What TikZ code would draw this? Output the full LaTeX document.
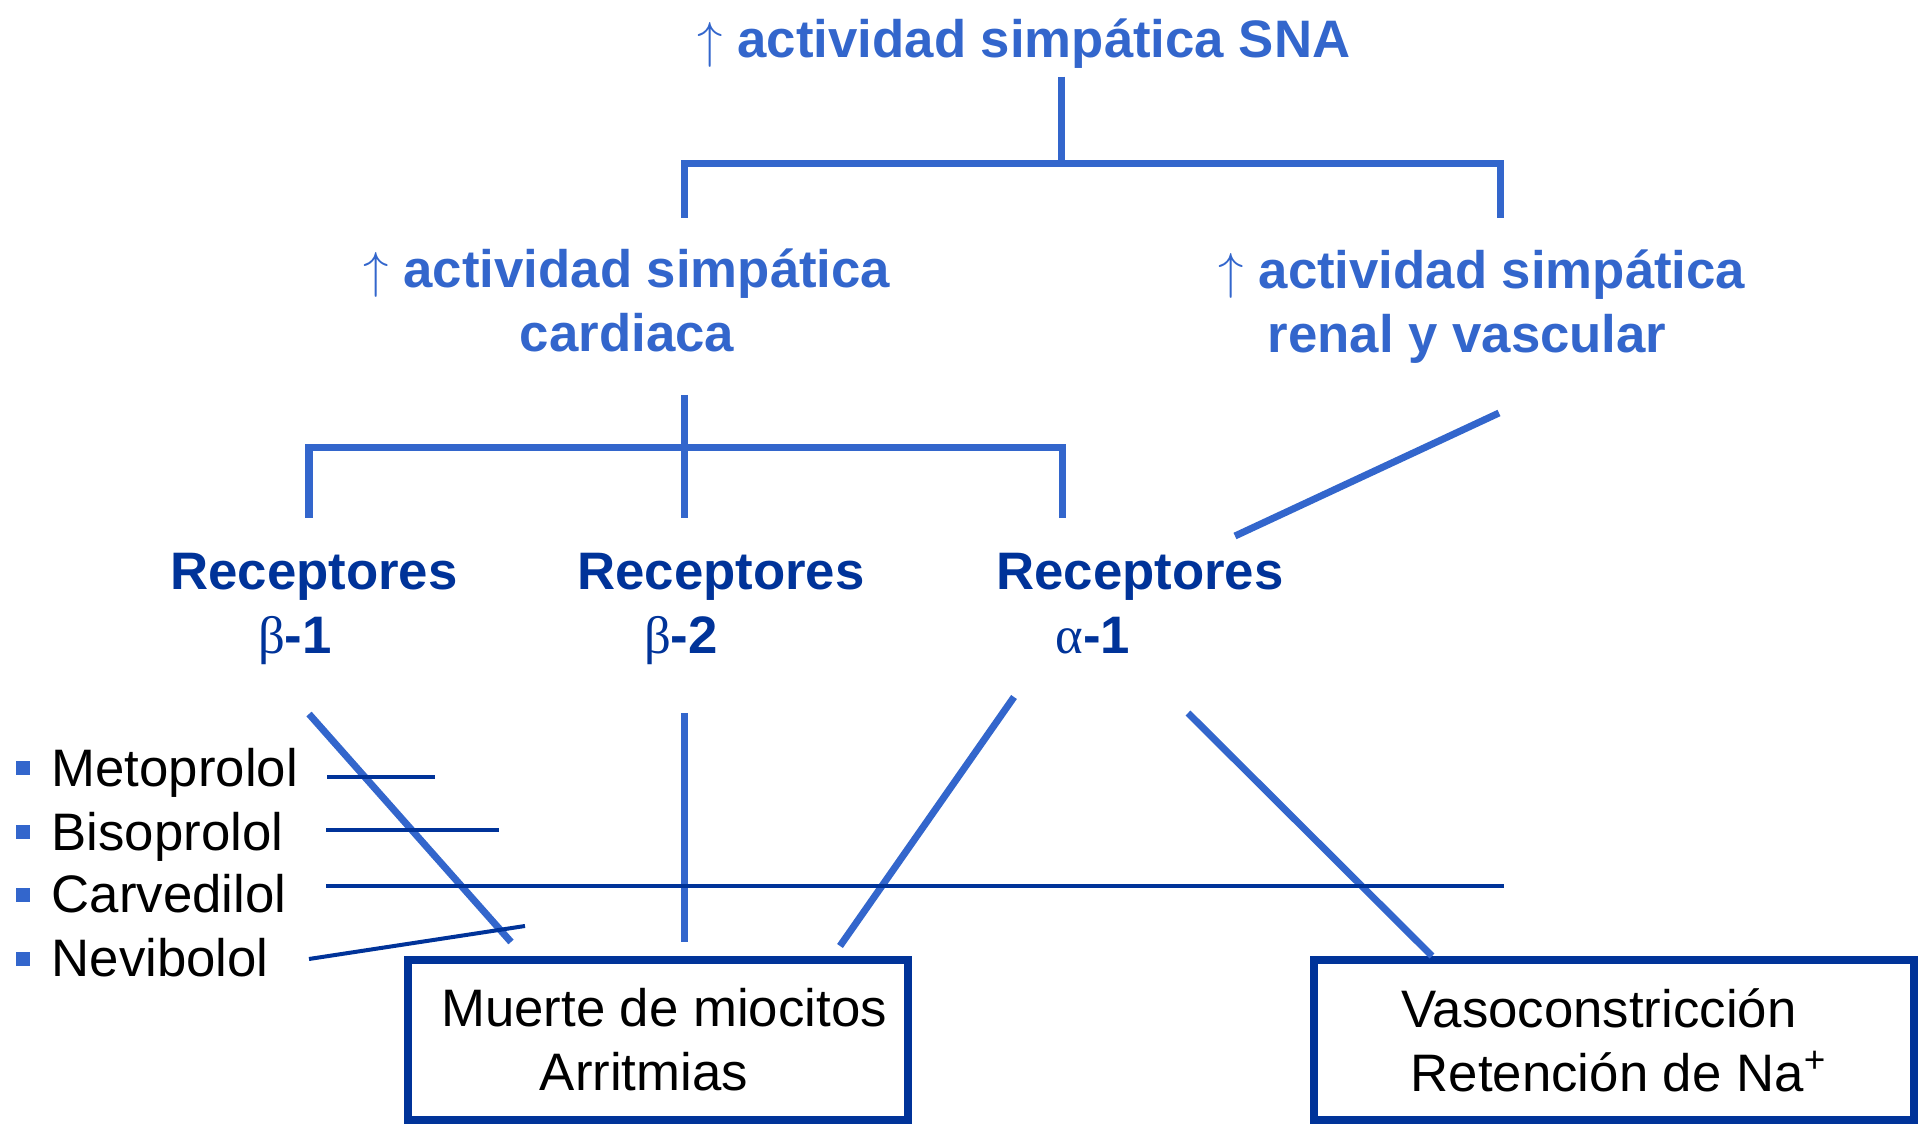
\documentclass[tikz,border=0pt]{standalone}
\usepackage{fontspec}
\setmainfont{Liberation Sans}
\newfontfamily\grkfont{Liberation Serif}
\usepackage{tikz}
\definecolor{snablue}{RGB}{51,102,204}
\definecolor{recblue}{RGB}{0,51,153}
\newcommand{\up}{$\uparrow$\ }
\newcommand{\grk}[1]{{\grkfont\mdseries #1}}

\begin{document}
\begin{tikzpicture}[x=0.01cm,y=-0.01cm,font=\fontsize{15}{18.2}\selectfont]
    \tikzset{head/.style = {text=snablue,font=\fontsize{15}{18.2}\selectfont\bfseries,inner sep=0}}
    \tikzset{rec/.style = {text=recblue,font=\fontsize{15}{18.2}\selectfont\bfseries,align=center,inner sep=0}}
    \tikzset{outcome/.style = {draw=recblue,line width=0.08cm,minimum height=1.6cm,align=center,inner sep=0}}
    \tikzset{drug/.style = {anchor=base west,inner sep=0}}
    \tikzset{bull/.style = {fill=snablue,minimum size=0.14cm,inner sep=0}}
    \tikzset{link/.style = {snablue,line width=0.07cm}}
    \tikzset{block/.style = {recblue,line width=0.04cm}}
    \useasboundingbox (0,0) rectangle (1923,1125);
    % headings
    \node[head,anchor=base] (sna) at (1024,58) {\up actividad simpática SNA};
    \node[head,align=center] (card) at (627,300) {\up actividad simpática\\cardiaca};
    \node[head,align=left,anchor=west] (renal) at (1218,307) {\up actividad simpática\\\hspace*{0.49cm}renal y vascular};
    % receptors
    \node[rec] (rb1) at (314,609) {Receptores\\\hspace*{-0.38cm}\grk{β}-1};
    \node[rec] (rb2) at (721,609) {Receptores\\\hspace*{-0.8cm}\grk{β}-2};
    \node[rec] (ra1) at (1140,604) {Receptores\\\hspace*{-0.94cm}\grk{α}-1};
    % effects
    \node[outcome,minimum width=5cm] (muerte) at (658,1040) {\hspace*{0.12cm}Muerte de miocitos\\\hspace*{-0.28cm}Arritmias};
    \node[outcome,minimum width=5.99cm] (vaso) at (1614,1040) {\hspace*{-0.3cm}Vasoconstricción\\\hspace*{0.1cm}Retención de Na\textsuperscript{+}};
    % drugs
    \node[bull] (bm) at (23,768) {};
    \node[bull] (bb) at (23,832) {};
    \node[bull] (bc) at (23,895) {};
    \node[bull] (bn) at (23,959) {};
    \node[drug] (meto) at (51,787) {Metoprolol};
    \node[drug] (biso) at (51,851) {Bisoprolol};
    \node[drug] (carv) at (51,913) {Carvedilol};
    \node[drug] (nevi) at (51,977) {Nevibolol};
    % tree
    \coordinate (j1) at (1061,164);
    \coordinate (cardin) at (684,218);
    \coordinate (renalin) at (1500,218);
    \draw[link] ([yshift=-0.07cm]sna.south -| j1) -- (j1);
    \draw[link] (cardin) |- (j1) -| (renalin);
    \coordinate (cardout) at (684,395);
    \coordinate (j2) at (684,448);
    \coordinate (b1in) at (309,518);
    \coordinate (b2in) at (684,518);
    \coordinate (a1in) at (1062,518);
    \draw[link] (cardout) -- (b2in);
    \draw[link] (b1in) |- (j2) -| (a1in);
    \coordinate (renalout) at (1499,413);
    \coordinate (a1r) at (1235,536);
    \draw[link] (renalout) -- (a1r);
    % receptors to effects
    \coordinate (b1out) at (309,714);
    \coordinate (b1end) at (511,942);
    \coordinate (b2out) at (684,713);
    \coordinate (b2end) at (684,942);
    \coordinate (a1outl) at (1014,697);
    \coordinate (a1endl) at (840,946);
    \coordinate (a1outr) at (1188,713);
    \coordinate (a1endr) at (1432,956);
    \draw[link] (b1out) -- (b1end);
    \draw[link] (b2out) -- (b2end);
    \draw[link] (a1outl) -- (a1endl);
    \draw[link] (a1outr) -- (a1endr);
    % blockers
    \coordinate (m1) at (327,777);
    \coordinate (m2) at (435,777);
    \coordinate (bi1) at (326,830);
    \coordinate (bi2) at (499,830);
    \coordinate (c1) at (326,886);
    \coordinate (c2) at (1504,886);
    \coordinate (n1) at (309,959);
    \coordinate (n2) at (525,926);
    \draw[block] (m1) -- (m2);
    \draw[block] (bi1) -- (bi2);
    \draw[block] (c1) -- (c2);
    \draw[block] (n1) -- (n2);
\end{tikzpicture}
\end{document}
